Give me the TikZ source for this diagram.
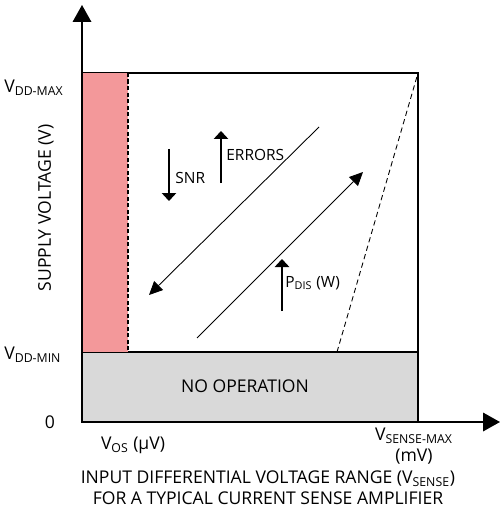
\documentclass[tikz,border=0pt]{standalone}
\usepackage{fontspec}
\setmainfont{Open Sans}
\usetikzlibrary{arrows.meta}
\definecolor{vospink}{RGB}{243,152,154}
\definecolor{nogray}{RGB}{217,217,217}

\begin{document}
\begin{tikzpicture}[x=0.02cm,y=-0.02cm,
    lbl/.style={font=\fontsize{10}{12}\selectfont, inner sep=0pt},
    small/.style={font=\fontsize{8.8}{10}\selectfont, inner sep=0pt},
    axis/.style={line width=1.1pt,-{Triangle[length=0.34cm,width=0.37cm]}},
    bigtip/.style={line width=0.5pt,-{Triangle[length=0.27cm,width=0.25cm]}},
    flattip/.style={line width=0.6pt,-{Triangle[length=0.16cm,width=0.29cm]}}]
    \useasboundingbox (0,0) rectangle (500,513);
    % regions
    \draw[line width=0.6pt,fill=nogray] (82,352) rectangle (418,422);
    \draw[line width=0.6pt] (82,73) -- (418,73) -- (418,352);
    \fill[vospink] (82,73) rectangle (128,352);
    \draw[line width=0.6pt,dash pattern=on 2.5pt off 1.2pt] (82,73) -- (82,352);
    \draw[line width=0.6pt,dash pattern=on 2.5pt off 1.2pt] (128,73) -- (128,352);
    \draw[line width=0.5pt,dash pattern=on 3pt off 2pt] (337,352) -- (418,73);
    % axes
    \draw[axis] (82,422) -- (82,5);
    \draw[axis] (82,422) -- (500,422);
    % trends
    \draw[bigtip] (319,127) -- (149,295);
    \draw[bigtip] (197,338) -- (363,172);
    \draw[flattip] (169,149) -- (169,201);
    \draw[flattip] (221,183) -- (221,131);
    \draw[flattip] (282,311) -- (282,259);
    \node[small,anchor=west] (snr) at (175,178) {SNR};
    \node[small,anchor=west] (err) at (226,155) {ERRORS};
    \node[small,anchor=west] (pdis) at (285,283) {P\textsubscript{DIS} (W)};
    % labels
    \node[lbl] (noop) at (245,386) {NO OPERATION};
    \node[lbl,anchor=west] (vmax) at (4,88) {V\textsubscript{DD-MAX}};
    \node[lbl,anchor=west] (vmin) at (4,355) {V\textsubscript{DD-MIN}};
    \node[lbl] (zero) at (50,422) {0};
    \node[lbl,rotate=90] (ylab) at (46,208) {SUPPLY VOLTAGE (V)};
    \node[lbl] (vos) at (133,445) {V\textsubscript{OS} (μV)};
    \node[lbl,align=center] (vsmax) at (414,446) {V\textsubscript{SENSE-MAX}\\(mV)};
    \node[lbl,align=center] (xlab) at (268,488) {INPUT DIFFERENTIAL VOLTAGE RANGE (V\textsubscript{SENSE})\\FOR A TYPICAL CURRENT SENSE AMPLIFIER};
\end{tikzpicture}
\end{document}
